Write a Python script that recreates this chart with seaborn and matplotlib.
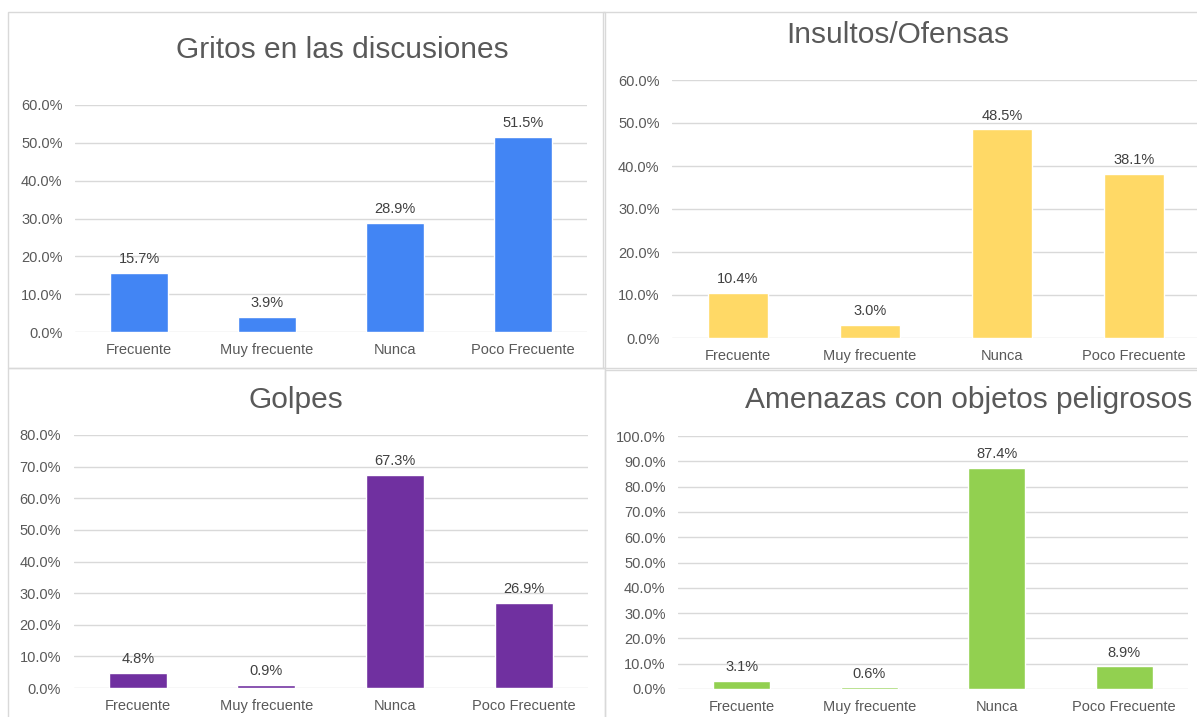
import matplotlib
matplotlib.use("Agg")
import matplotlib.pyplot as plt
import seaborn as sns
import pandas as pd
from matplotlib.patches import Rectangle
from matplotlib.ticker import FuncFormatter, MultipleLocator

categories = ["Frecuente", "Muy frecuente", "Nunca", "Poco Frecuente"]

gritos = [15.7, 3.9, 28.9, 51.5]
insultos = [10.4, 3.0, 48.5, 38.1]
golpes = [4.8, 0.9, 67.3, 26.9]
amenazas = [3.1, 0.6, 87.4, 8.9]

titles = ["Gritos en las discusiones", "Insultos/Ofensas", "Golpes",
          "Amenazas con objetos peligrosos"]
series = [gritos, insultos, golpes, amenazas]
ymaxes = [60, 60, 80, 100]
colors = ["#4285F4", "#FFD966", "#7030A0", "#92D050"]

sns.set_style("white")
plt.rcParams["font.family"] = ["Liberation Sans", "DejaVu Sans"]

W, H = 1197, 717
fig = plt.figure(figsize=(W / 100, H / 100), dpi=100)

def fx(px):
    return px / W

def fy(py):
    return 1 - py / H

# panel borders (pixel coords: x0, y0, x1, y1)
borders = [(8, 12, 605, 368), (603, 12, 1210, 368), (8, 368, 605, 730), (605, 370, 1210, 730)]
for x0, y0, x1, y1 in borders:
    fig.add_artist(Rectangle((fx(x0), fy(y1)), fx(x1 - x0), (y1 - y0) / H,
                             transform=fig.transFigure, fill=False,
                             edgecolor="#d9d9d9", linewidth=1.0, zorder=0))

# axes pixel boxes: left, right, y of zero, y of max
boxes = [(75, 587, 332, 105), (672, 1200, 338, 80), (73.5, 588, 688, 435), (678, 1188, 689, 436)]
title_pos = [(342, 58), (898, 43), (296, 408), (969, 408)]

for i in range(4):
    l, r, yb, yt = boxes[i]
    ax = fig.add_axes([fx(l), fy(yb), fx(r - l), (yb - yt) / H])
    df = pd.DataFrame({"cat": categories, "val": series[i]})
    sns.barplot(data=df, x="cat", y="val", color=colors[i], width=0.45,
                saturation=1, ax=ax, zorder=3)
    ax.set_xlim(-0.5, 3.5)
    ax.set_ylim(0, ymaxes[i])
    ax.yaxis.set_major_locator(MultipleLocator(10))
    ax.yaxis.set_major_formatter(FuncFormatter(lambda v, p: f"{v:.1f}%"))
    ax.grid(axis="y", color="#d9d9d9", linewidth=1.0, zorder=0)
    ax.set_axisbelow(True)
    for s in ax.spines.values():
        s.set_visible(False)
    ax.set_xlabel("")
    ax.set_ylabel("")
    ax.tick_params(axis="both", length=0, labelsize=10.5, colors="#595959")
    ax.tick_params(axis="x", pad=8)
    ax.tick_params(axis="y", pad=9)
    ax.patch.set_alpha(0)
    ax.bar_label(ax.containers[0], labels=[f"{v:.1f}%" for v in series[i]],
                 padding=5, fontsize=10.5, color="#404040")
    tx, ty = title_pos[i]
    fig.text(fx(tx), fy(ty), titles[i], ha="center", va="baseline",
             fontsize=21.5, color="#595959")

fig.savefig("out.png", dpi=100)
